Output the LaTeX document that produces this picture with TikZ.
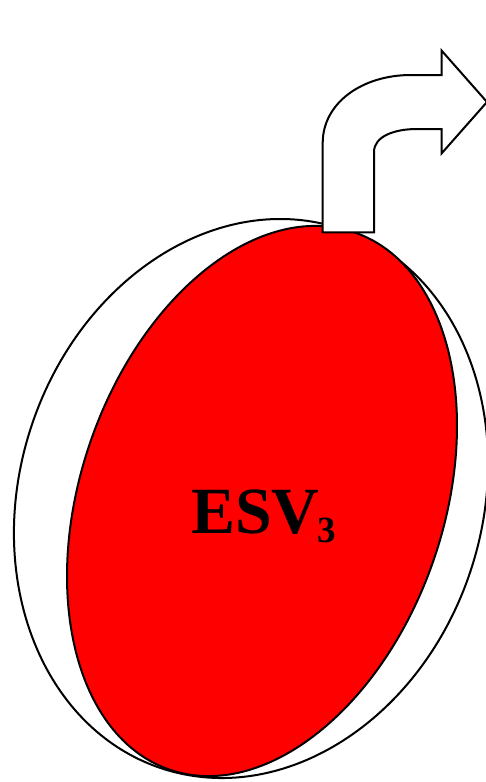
\documentclass[tikz,border=0pt]{standalone}
\usepackage{fontspec}
\setmainfont{Liberation Serif}
\begin{document}
\begin{tikzpicture}[x=1pt,y=-1pt,
  outline/.style={draw=black,line width=2pt},
  ring/.style={outline,fill=white},
  chamber/.style={outline,fill={rgb,255:red,255;green,0;blue,0}},
  bentarrow/.style={outline,fill=white,line join=miter},
  label/.style={font=\fontsize{66}{66}\selectfont\bfseries,inner sep=0pt,anchor=base west}]
\useasboundingbox (0,0) rectangle (486,782);
% outer wall
\draw[ring,rotate around={-18.4:(251,498.5)}] (251,498.5) ellipse [x radius=231.2, y radius=284.3];
% red chamber
\draw[chamber,rotate around={-19:(262,501)}] (262,501) ellipse [x radius=181.5, y radius=284.1];
% bent arrow
\draw[bentarrow] (322.7,232.3) -- (322.7,143)
  .. controls (322.7,103) and (362,75) .. (411,75)
  -- (441.7,75) -- (441.7,50.7) -- (487,102) -- (441.7,153.3) -- (441.7,129)
  -- (417,129) .. controls (395,129) and (374,136) .. (374,152)
  -- (374,232.3) -- cycle;
\node[label] (esv) at (191,533) {ESV\kern-2pt\raisebox{-9.5pt}{\fontsize{37}{37}\selectfont 3}};
\end{tikzpicture}
\end{document}
